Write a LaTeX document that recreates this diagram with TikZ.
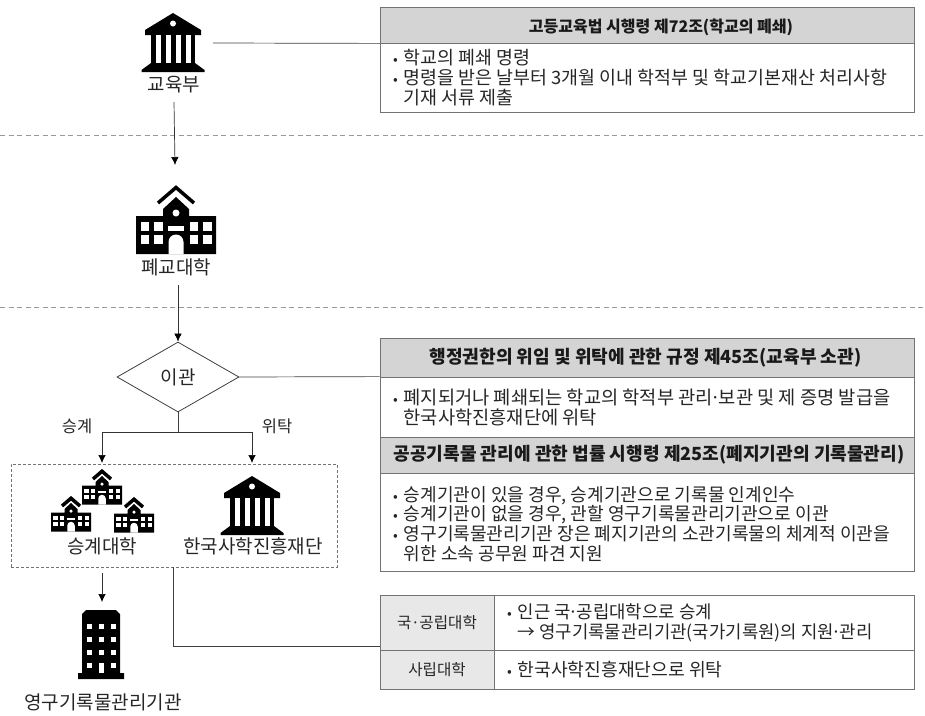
\documentclass[tikz,border=0pt]{standalone}
\usepackage{fontspec}
\setmainfont{Noto Sans CJK KR}
\usetikzlibrary{arrows.meta,shapes.geometric}
\newcommand{\bl}{\makebox[10.5pt][l]{\fontsize{14}{14}\selectfont •}}
\newcommand{\nb}{\hspace*{10.5pt}}
\newcommand{\nd}{\makebox[6pt][c]{·}}
\tikzset{
  x=1pt,y=-1pt,
  link/.style={draw=black!75,line width=.7pt},
  arrowline/.style={draw=black!80,line width=.7pt,-{Latex[length=8pt,width=7.5pt,black]}},
  sep/.style={draw=black!40,line width=.8pt,dash pattern=on 5pt off 3.5pt},
  frame/.style={draw=black!55,line width=.8pt},
  hdr/.style={draw=black!55,line width=.8pt,fill=black!17},
  leftcell/.style={draw=black!55,line width=.8pt,fill=black!9},
  lbl/.style={font=\fontsize{19}{20}\selectfont,text=black!85,inner sep=0pt},
  hdrtxt/.style={font=\fontsize{18.1}{20}\selectfont\bfseries,text=black!90,inner sep=0pt},
  celltxt/.style={font=\fontsize{15.6}{20}\selectfont,text=black!85},
  bodytxt/.style={font=\fontsize{18.2}{20}\selectfont,text=black!85,inner sep=0pt,align=left,anchor=north west},
  pics/bank/.style={code={
    \fill[black] (0,0)--(28,17)--(28,22)--(-28,22)--(-28,17)--cycle;
    \fill[black] (-22,22) rectangle (22,50);
    \fill[black] (-22,50)--(22,50)--(31.5,57)--(31.5,59)--(-31.5,59)--(-31.5,57)--cycle;
    \fill[white] (0,10.5) circle (3);
    \foreach \a in {-17.5,-7.5,2.5,12.5}{\fill[white] (\a,22) rectangle (\a+5,50);}
  }},
  pics/school/.style={code={
    \draw[black,line width=3.5pt] (-18,18)--(0,2.5)--(18,18);
    \fill[black] (0,12)--(13,24)--(13,31)--(40,31)--(40,69)--(-40,69)--(-40,31)--(-13,31)--(-13,24)--cycle;
    \fill[white] (0,28) circle (3.5);
    \foreach \a in {-35.5,-22,13.5,27}{\foreach \b in {37,50}{\fill[white] (\a,\b) rectangle (\a+8.5,\b+8.5);}}
    \fill[white] (-8,41) rectangle (8,46);
    \fill[white] (-7.5,69)--(-7.5,57) arc[start angle=180,end angle=360,radius=7.5]--(7.5,69)--cycle;
  }},
  pics/tower/.style={code={
    \fill[black] (-15,0)--(15,0)--(17,2)--(19,4)--(19,63)--(23,63)--(23,69)--(-23,69)--(-23,63)--(-19,63)--(-19,4)--(-17,2)--cycle;
    \foreach \a in {-14,-2.5,9.5}{\foreach \b in {14,27,40}{\fill[white] (\a,\b) rectangle (\a+5,\b+5);}}
    \fill[white] (-14,53) rectangle (-9,58);
    \fill[white] (9.5,53) rectangle (14.5,58);
    \fill[white] (-2.5,53) rectangle (2.5,63);
  }},
}
\begin{document}
\begin{tikzpicture}
\useasboundingbox (0,0) rectangle (925,715);
% separators
\coordinate (s1l) at (0,135); \coordinate (s1r) at (925,135);
\coordinate (s2l) at (0,307); \coordinate (s2r) at (925,307);
\draw[sep] (s1l)--(s1r);
\draw[sep] (s2l)--(s2r);

% icons
\pic at (173,13) {bank};
\pic at (176,185) {school};
\pic[scale=.5] at (102,470) {school};
\pic[scale=.5] at (71,497) {school};
\pic[scale=.5] at (134,498) {school};
\pic at (252,476) {bank};
\pic at (101,610) {tower};

% labels
\node[lbl] (edu) at (174,85) {교육부};
\node[lbl] (closed) at (176,267) {폐교대학};
\node[lbl] (succ) at (102,546) {승계대학};
\node[lbl] (kfund) at (253,546) {한국사학진흥재단};
\node[lbl] (arch) at (103,702) {영구기록물관리기관};
\node[lbl,font=\fontsize{16.5}{18}\selectfont] (l1) at (77,426) {승계};
\node[lbl,font=\fontsize{16.5}{18}\selectfont] (l2) at (277,426) {위탁};

% diamond
\node[diamond,draw=black!75,line width=.8pt,inner sep=0pt,aspect=1.75,
      minimum height=70pt,minimum width=122pt,font=\fontsize{19}{20}\selectfont,text=black!85] (dia) at (178,377) {이관};

% dashed group
\node[draw=black!55,line width=.7pt,densely dashed,minimum width=326pt,minimum height=103pt,inner sep=0pt] (grp) at (174,515.5) {};

% right boxes
\node[hdr,minimum width=534pt,minimum height=36pt,inner sep=0pt] (h1) at (647,25) {};
\node[hdrtxt,font=\fontsize{16}{20}\selectfont\bfseries] at (661,27) {고등교육법 시행령 제72조(학교의 폐쇄)};
\node[frame,minimum width=534pt,minimum height=69pt,inner sep=0pt] (b1) at (647,77.5) {};
\node[bodytxt,font=\fontsize{18.4}{20}\selectfont] (t1) at (393,49) {\bl 학교의 폐쇄 명령\\\bl 명령을 받은 날부터 3개월 이내 학적부 및 학교기본재산 처리사항\\\nb 기재 서류 제출};

\node[hdr,minimum width=534pt,minimum height=39pt,inner sep=0pt] (h2) at (647,357.5) {};
\node[hdrtxt] at (645.5,358) {행정권한의 위임 및 위탁에 관한 규정 제45조(교육부 소관)};
\node[frame,minimum width=534pt,minimum height=60pt,inner sep=0pt] (b2) at (647,407) {};
\node[bodytxt,font=\fontsize{18.7}{20}\selectfont] (t2) at (393,389) {\bl 폐지되거나 폐쇄되는 학교의 학적부 관리\nd 보관 및 제 증명 발급을\\\nb 한국사학진흥재단에 위탁};
\node[hdr,minimum width=534pt,minimum height=36pt,inner sep=0pt] (h3) at (647,455) {};
\node[hdrtxt] at (649,455) {공공기록물 관리에 관한 법률 시행령 제25조(폐지기관의 기록물관리)};
\node[frame,minimum width=534pt,minimum height=98pt,inner sep=0pt] (b3) at (647,522) {};
\node[bodytxt,font=\fontsize{18.1}{19.7}\selectfont] (t3) at (393,486) {\bl 승계기관이 있을 경우, 승계기관으로 기록물 인계인수\\\bl 승계기관이 없을 경우, 관할 영구기록물관리기관으로 이관\\\bl 영구기록물관리기관 장은 폐지기관의 소관기록물의 체계적 이관을\\\nb 위한 소속 공무원 파견 지원};

% bottom table
\node[leftcell,celltxt,minimum width=114pt,minimum height=55pt,inner sep=0pt] (c1) at (437,622.5) {국\makebox[8pt][c]{·}공립대학};
\node[frame,minimum width=420pt,minimum height=55pt,inner sep=0pt] (c2) at (704,622.5) {};
\node[leftcell,celltxt,minimum width=114pt,minimum height=39pt,inner sep=0pt] (c3) at (437,669.5) {사립대학};
\node[frame,minimum width=420pt,minimum height=39pt,inner sep=0pt] (c4) at (704,669.5) {};
\node[bodytxt,font=\fontsize{17.8}{20}\selectfont] (t4) at (507,603) {\bl 인근 국\nd 공립대학으로 승계\\\nb → 영구기록물관리기관(국가기록원)의 지원\nd 관리};
\node[bodytxt] (t5) at (507,661) {\bl 한국사학진흥재단으로 위탁};

% connectors
\coordinate (a0) at (213,43);
\draw[link] (a0)--(h1.south west);
\draw[link] (dia.east)--(b2.north west);
\coordinate (a1) at (174,102); \coordinate (a2) at (175,165);
\draw[arrowline] (a1)--(a2);
\coordinate (a3) at (178,285);
\draw[arrowline] (a3)--(dia.north);
\coordinate (j) at (178,432);
\draw[link] (dia.south)--(j);
\coordinate (a4) at (102,463); \coordinate (a5) at (252,463);
\draw[arrowline] (j)-|(a4);
\draw[arrowline] (j)-|(a5);
\coordinate (a6) at (102,573); \coordinate (a7) at (102,602);
\draw[arrowline] (a6)--(a7);
\coordinate (g1) at (173,567); \coordinate (g2) at (173,646);
\draw[link] (g1)--(g2)--(c1.west |- g2);
\end{tikzpicture}
\end{document}
